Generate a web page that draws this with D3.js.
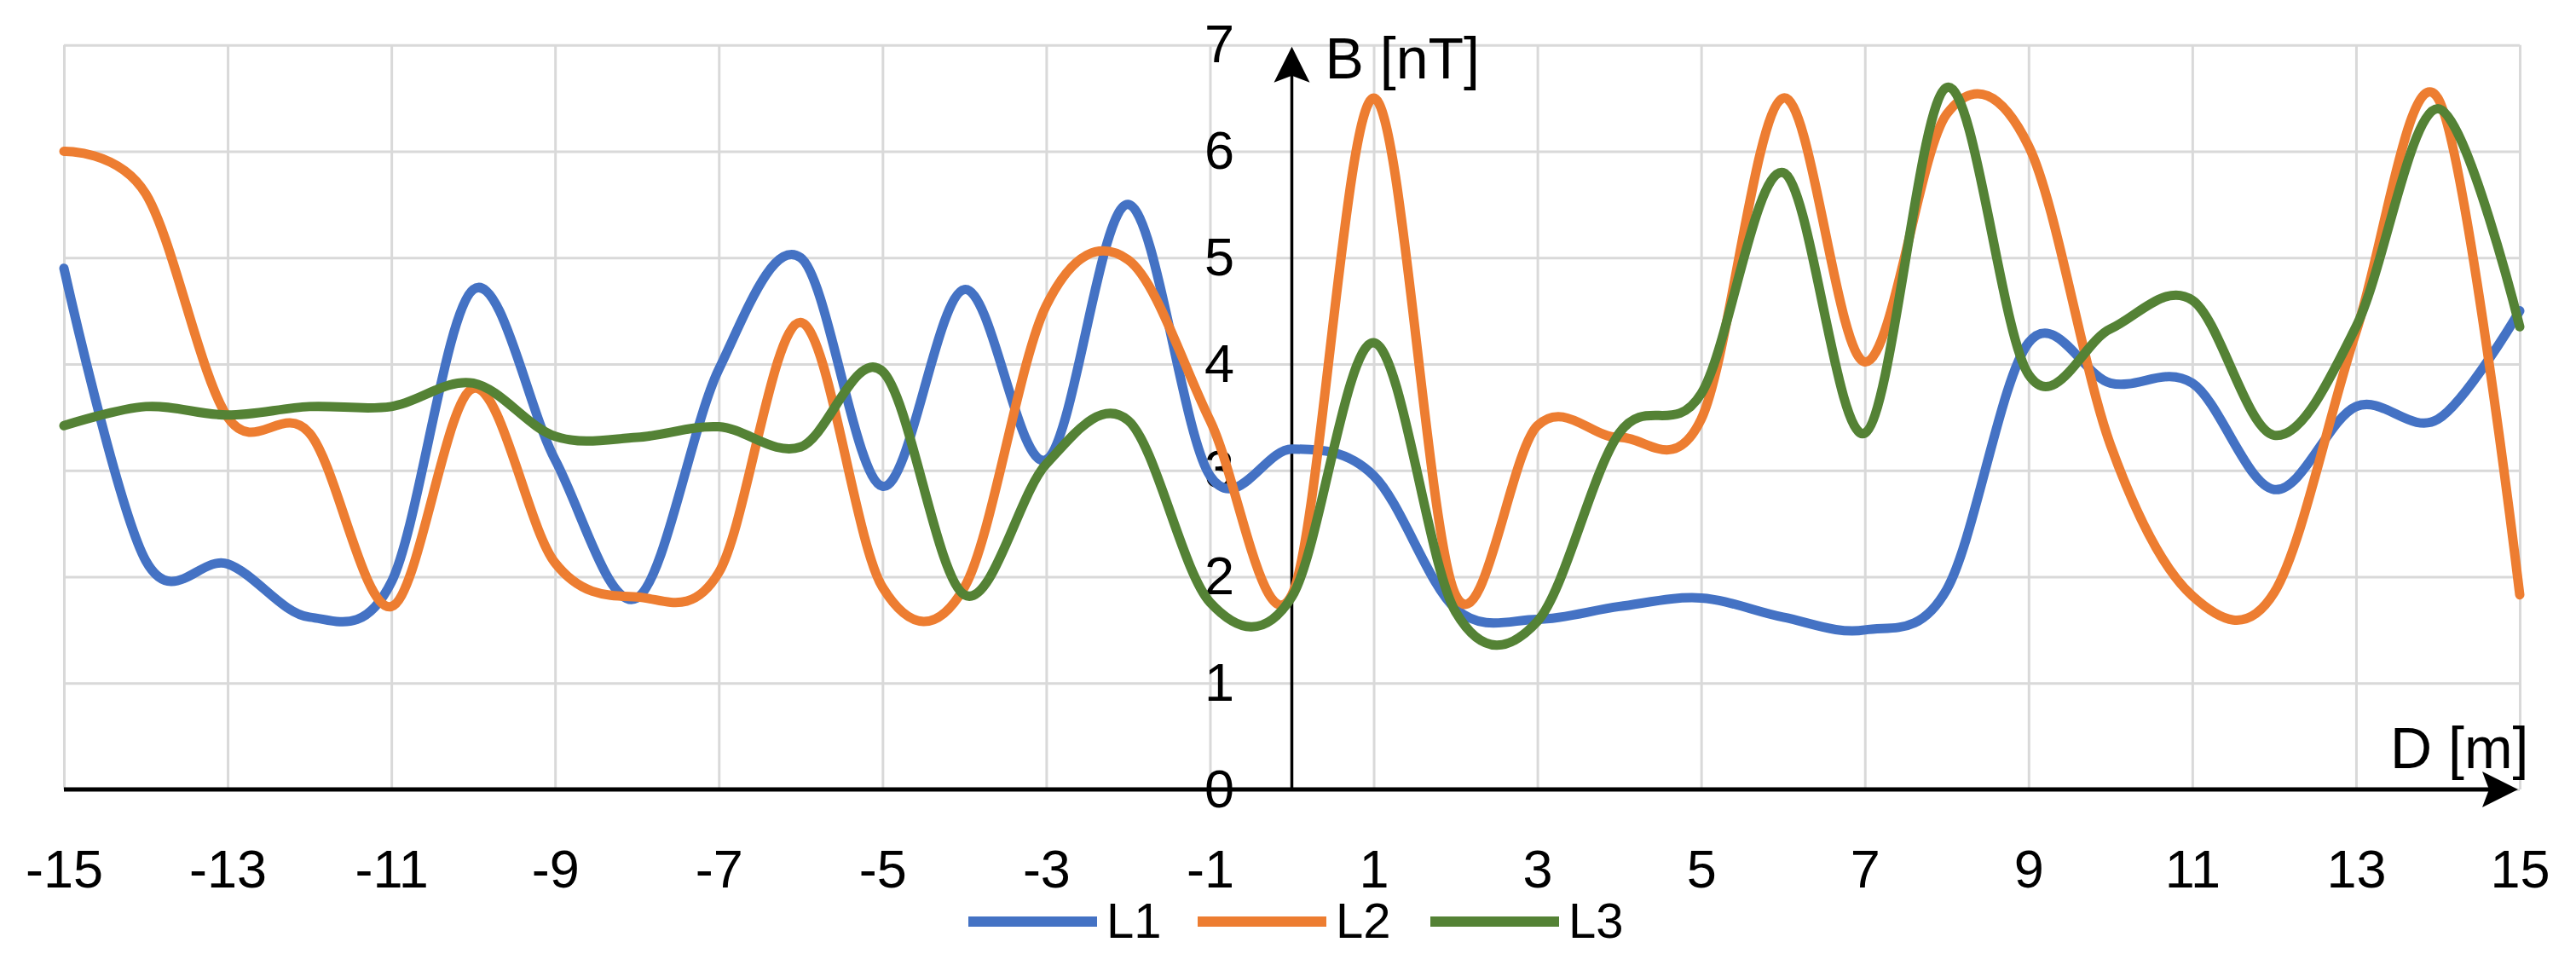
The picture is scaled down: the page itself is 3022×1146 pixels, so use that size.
<!DOCTYPE html>
<html>
<head>
<meta charset="utf-8">
<script src="https://cdn.jsdelivr.net/npm/d3@7"></script>
<style>
  html, body { margin: 0; padding: 0; background: #ffffff; }
  svg { display: block; }
  text { font-family: "Liberation Sans", Arial, sans-serif; fill: #000; }
</style>
</head>
<body>
<svg id="chart" width="3022" height="1146"></svg>
<script>
// ---- data ----
const distances = [-15, -14, -13, -12, -11, -10, -9, -8, -7, -6, -5, -4, -3, -2, -1, 0,
                   1, 2, 3, 4, 5, 6, 7, 8, 9, 10, 11, 12, 13, 14, 15];
const L1 = [4.9, 2.15, 2.12, 1.62, 1.95, 4.7, 3.1, 1.8, 3.95, 5.0, 2.85, 4.7, 3.1, 5.5, 2.95, 3.2,
            2.95, 1.7, 1.6, 1.72, 1.8, 1.62, 1.5, 1.88, 4.2, 3.82, 3.82, 2.82, 3.6, 3.48, 4.5];
const L2 = [6.0, 5.6, 3.5, 3.35, 1.72, 3.77, 2.13, 1.81, 2.04, 4.39, 1.9, 1.9, 4.55, 4.98, 3.47, 1.83,
            6.5, 1.83, 3.42, 3.31, 3.48, 6.5, 4.02, 6.35, 6.05, 3.24, 1.82, 1.85, 4.3, 6.5, 1.83];
const L3 = [3.42, 3.6, 3.52, 3.6, 3.6, 3.82, 3.32, 3.31, 3.41, 3.22, 3.93, 1.83, 3.06, 3.47, 1.76, 1.81,
            4.2, 1.67, 1.58, 3.35, 3.72, 5.8, 3.35, 6.6, 3.9, 4.33, 4.6, 3.33, 4.35, 6.4, 4.35];
const seriesNames = ["L1", "L2", "L3"];
const seriesColors = ["#4472C4", "#ED7D31", "#548235"];
const xTickValues = [-15, -13, -11, -9, -7, -5, -3, -1, 1, 3, 5, 7, 9, 11, 13, 15];
const yTickValues = [0, 1, 2, 3, 4, 5, 6, 7];
const xAxisTitle = "D [m]";
const yAxisTitle = "B [nT]";

// ---- layout ----
const svg = d3.select("#chart");
const x = d3.scaleLinear().domain([-15, 15]).range([75, 2956]);
const y = d3.scaleLinear().domain([0, 7]).range([926, 52.7]);
const plotTop = y(7), plotBottom = y(0), plotLeft = x(-15), plotRight = x(15);
const gridColor = "#d9d9d9";

// gridlines
const gridX = svg.append("g").attr("transform", `translate(0,${plotBottom})`)
  .call(d3.axisBottom(x).tickValues(xTickValues).tickSize(-(plotBottom - plotTop)).tickFormat(""));
gridX.select(".domain").remove();
gridX.selectAll("line").attr("stroke", gridColor).attr("stroke-width", 3);

const gridY = svg.append("g").attr("transform", `translate(${plotLeft},0)`)
  .call(d3.axisLeft(y).tickValues(yTickValues).tickSize(-(plotRight - plotLeft)).tickFormat(""));
gridY.select(".domain").remove();
gridY.selectAll("line").attr("stroke", gridColor).attr("stroke-width", 3);

// axis lines with arrows
const x0 = x(0);
const xTip = 2954, yTip = plotTop + 2;
svg.append("line").attr("x1", plotLeft).attr("x2", xTip - 20)
  .attr("y1", plotBottom).attr("y2", plotBottom)
  .attr("stroke", "#000").attr("stroke-width", 5);
svg.append("path")
  .attr("d", `M${xTip},${plotBottom} L${xTip - 42},${plotBottom - 21} L${xTip - 34},${plotBottom} L${xTip - 42},${plotBottom + 21} Z`)
  .attr("fill", "#000");
svg.append("line").attr("x1", x0).attr("x2", x0)
  .attr("y1", plotBottom).attr("y2", yTip + 20)
  .attr("stroke", "#000").attr("stroke-width", 3.5);
svg.append("path")
  .attr("d", `M${x0},${yTip} L${x0 - 21},${yTip + 42} L${x0},${yTip + 34} L${x0 + 21},${yTip + 42} Z`)
  .attr("fill", "#000");

// tick labels
const xLab = svg.append("g").attr("transform", `translate(0,${plotBottom})`)
  .call(d3.axisBottom(x).tickValues(xTickValues).tickSize(0).tickPadding(70).tickFormat(d => String(d)));
xLab.select(".domain").remove();
xLab.selectAll("text").attr("font-size", 63).attr("fill", "#000")
  .style("font-family", '"Liberation Sans", Arial, sans-serif');

const yLab = svg.append("g").attr("transform", `translate(${x0},0)`)
  .call(d3.axisLeft(y).tickValues(yTickValues).tickSize(0).tickPadding(67.5).tickFormat(d => String(d)));
yLab.select(".domain").remove();
yLab.selectAll("text").attr("font-size", 63).attr("fill", "#000")
  .style("font-family", '"Liberation Sans", Arial, sans-serif');

// axis titles
svg.append("text").attr("x", x0 + 39).attr("y", 92).attr("font-size", 68)
  .text(yAxisTitle);
svg.append("text").attr("x", 2804).attr("y", 901).attr("font-size", 68)
  .text(xAxisTitle);

// series lines
const seriesData = [L1, L2, L3];
const line = d3.line()
  .x((d, i) => x(distances[i]))
  .y(d => y(d))
  .curve(d3.curveCardinal.tension(0));
svg.append("g").selectAll("path").data(seriesData).join("path")
  .attr("d", d => line(d))
  .attr("fill", "none")
  .attr("stroke", (d, i) => seriesColors[i])
  .attr("stroke-width", 11)
  .attr("stroke-linejoin", "round")
  .attr("stroke-linecap", "round");

// legend
const legendStarts = [1136, 1405, 1678];
const legend = svg.append("g").selectAll("g").data(seriesNames).join("g")
  .attr("transform", (d, i) => `translate(${legendStarts[i]},0)`);
legend.append("line").attr("x1", 0).attr("x2", 151).attr("y1", 1081).attr("y2", 1081)
  .attr("stroke", (d, i) => seriesColors[i]).attr("stroke-width", 12);
legend.append("text").attr("x", 162).attr("y", 1100).attr("font-size", 58).text(d => d);
</script>
</body>
</html>
